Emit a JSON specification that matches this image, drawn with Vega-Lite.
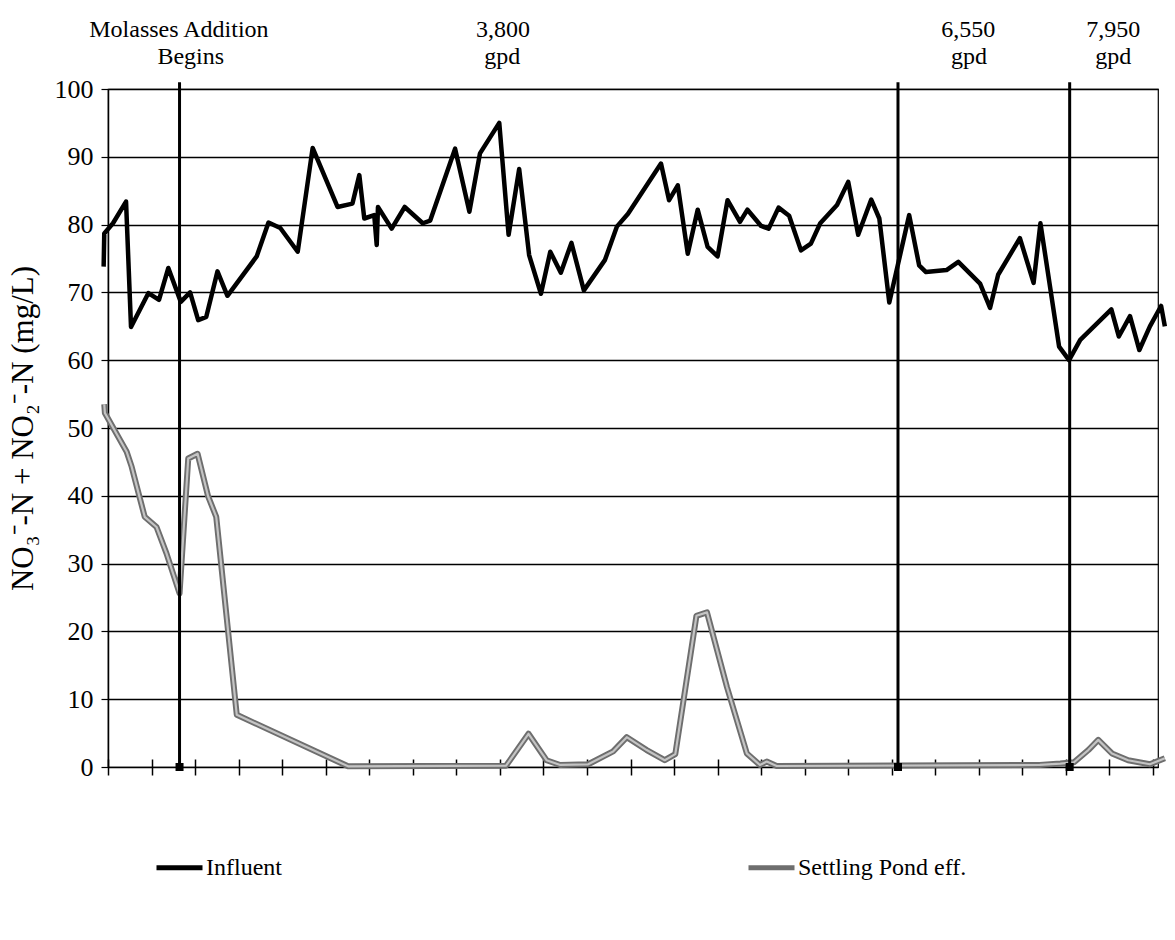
{
  "$schema": "https://vega.github.io/schema/vega-lite/v6.json",
  "width": 1050,
  "height": 678,
  "autosize": {"type": "none"},
  "padding": {"left": 108, "top": 89, "right": 17, "bottom": 173},
  "background": "white",
  "config": {
    "font": "Liberation Serif",
    "view": {"stroke": "black", "strokeWidth": 1.2},
    "axis": {"labelColor": "black", "titleColor": "black", "domainColor": "black", "tickColor": "black", "gridColor": "black"}
  },
  "datasets": {
    "series": [
      {"s": "Influent", "day": -0.7, "v": 73.8},
      {"s": "Influent", "day": -0.6, "v": 78.7},
      {"s": "Influent", "day": 0.8, "v": 80.2},
      {"s": "Influent", "day": 2.9, "v": 83.4},
      {"s": "Influent", "day": 3.7, "v": 64.9},
      {"s": "Influent", "day": 6.5, "v": 69.9},
      {"s": "Influent", "day": 8.2, "v": 68.9},
      {"s": "Influent", "day": 9.7, "v": 73.6},
      {"s": "Influent", "day": 11.7, "v": 68.6},
      {"s": "Influent", "day": 13.2, "v": 70.0},
      {"s": "Influent", "day": 14.5, "v": 65.9},
      {"s": "Influent", "day": 15.8, "v": 66.4},
      {"s": "Influent", "day": 17.6, "v": 73.1},
      {"s": "Influent", "day": 19.2, "v": 69.5},
      {"s": "Influent", "day": 23.9, "v": 75.3},
      {"s": "Influent", "day": 25.8, "v": 80.3},
      {"s": "Influent", "day": 27.7, "v": 79.5},
      {"s": "Influent", "day": 30.5, "v": 76.0},
      {"s": "Influent", "day": 32.9, "v": 91.3},
      {"s": "Influent", "day": 36.9, "v": 82.6},
      {"s": "Influent", "day": 39.3, "v": 83.1},
      {"s": "Influent", "day": 40.4, "v": 87.3},
      {"s": "Influent", "day": 41.2, "v": 80.9},
      {"s": "Influent", "day": 42.8, "v": 81.4},
      {"s": "Influent", "day": 43.2, "v": 77.0},
      {"s": "Influent", "day": 43.4, "v": 82.6},
      {"s": "Influent", "day": 45.6, "v": 79.4},
      {"s": "Influent", "day": 47.7, "v": 82.6},
      {"s": "Influent", "day": 50.6, "v": 80.2},
      {"s": "Influent", "day": 51.8, "v": 80.6},
      {"s": "Influent", "day": 55.8, "v": 91.2},
      {"s": "Influent", "day": 58.1, "v": 81.9},
      {"s": "Influent", "day": 59.8, "v": 90.5},
      {"s": "Influent", "day": 62.9, "v": 95.0},
      {"s": "Influent", "day": 64.4, "v": 78.5},
      {"s": "Influent", "day": 66.1, "v": 88.2},
      {"s": "Influent", "day": 67.7, "v": 75.5},
      {"s": "Influent", "day": 69.6, "v": 69.8},
      {"s": "Influent", "day": 71.1, "v": 76.0},
      {"s": "Influent", "day": 72.8, "v": 72.9},
      {"s": "Influent", "day": 74.5, "v": 77.3},
      {"s": "Influent", "day": 76.5, "v": 70.3},
      {"s": "Influent", "day": 79.9, "v": 74.8},
      {"s": "Influent", "day": 81.8, "v": 79.7},
      {"s": "Influent", "day": 83.6, "v": 81.6},
      {"s": "Influent", "day": 88.9, "v": 89.0},
      {"s": "Influent", "day": 90.2, "v": 83.6},
      {"s": "Influent", "day": 91.6, "v": 85.8},
      {"s": "Influent", "day": 93.2, "v": 75.7},
      {"s": "Influent", "day": 94.8, "v": 82.2},
      {"s": "Influent", "day": 96.4, "v": 76.7},
      {"s": "Influent", "day": 98.0, "v": 75.3},
      {"s": "Influent", "day": 99.6, "v": 83.6},
      {"s": "Influent", "day": 101.6, "v": 80.4},
      {"s": "Influent", "day": 102.8, "v": 82.2},
      {"s": "Influent", "day": 105.0, "v": 79.8},
      {"s": "Influent", "day": 106.2, "v": 79.4},
      {"s": "Influent", "day": 107.8, "v": 82.5},
      {"s": "Influent", "day": 109.5, "v": 81.3},
      {"s": "Influent", "day": 111.4, "v": 76.2},
      {"s": "Influent", "day": 113.0, "v": 77.2},
      {"s": "Influent", "day": 114.5, "v": 80.2},
      {"s": "Influent", "day": 117.2, "v": 82.9},
      {"s": "Influent", "day": 119.0, "v": 86.3},
      {"s": "Influent", "day": 120.6, "v": 78.5},
      {"s": "Influent", "day": 122.7, "v": 83.7},
      {"s": "Influent", "day": 124.0, "v": 80.9},
      {"s": "Influent", "day": 125.6, "v": 68.5},
      {"s": "Influent", "day": 128.8, "v": 81.4},
      {"s": "Influent", "day": 130.4, "v": 74.0},
      {"s": "Influent", "day": 131.5, "v": 73.0},
      {"s": "Influent", "day": 134.8, "v": 73.3},
      {"s": "Influent", "day": 136.7, "v": 74.5},
      {"s": "Influent", "day": 140.2, "v": 71.3},
      {"s": "Influent", "day": 141.8, "v": 67.7},
      {"s": "Influent", "day": 143.1, "v": 72.6},
      {"s": "Influent", "day": 146.6, "v": 78.0},
      {"s": "Influent", "day": 148.8, "v": 71.4},
      {"s": "Influent", "day": 149.9, "v": 80.2},
      {"s": "Influent", "day": 152.9, "v": 62.0},
      {"s": "Influent", "day": 154.5, "v": 60.0},
      {"s": "Influent", "day": 156.3, "v": 63.0},
      {"s": "Influent", "day": 161.3, "v": 67.5},
      {"s": "Influent", "day": 162.5, "v": 63.5},
      {"s": "Influent", "day": 164.3, "v": 66.5},
      {"s": "Influent", "day": 165.8, "v": 61.5},
      {"s": "Influent", "day": 167.5, "v": 65.0},
      {"s": "Influent", "day": 169.3, "v": 68.0},
      {"s": "Influent", "day": 169.9, "v": 65.0},
      {"s": "Settling Pond eff.", "day": -0.6, "v": 53.5},
      {"s": "Settling Pond eff.", "day": -0.5, "v": 52.2},
      {"s": "Settling Pond eff.", "day": 3.0, "v": 46.5},
      {"s": "Settling Pond eff.", "day": 3.8, "v": 44.3},
      {"s": "Settling Pond eff.", "day": 5.9, "v": 36.9},
      {"s": "Settling Pond eff.", "day": 7.8, "v": 35.4},
      {"s": "Settling Pond eff.", "day": 9.4, "v": 31.5},
      {"s": "Settling Pond eff.", "day": 11.5, "v": 25.6},
      {"s": "Settling Pond eff.", "day": 12.9, "v": 45.5},
      {"s": "Settling Pond eff.", "day": 14.4, "v": 46.2},
      {"s": "Settling Pond eff.", "day": 16.1, "v": 39.9},
      {"s": "Settling Pond eff.", "day": 17.4, "v": 36.9},
      {"s": "Settling Pond eff.", "day": 20.7, "v": 7.7},
      {"s": "Settling Pond eff.", "day": 38.6, "v": 0.1},
      {"s": "Settling Pond eff.", "day": 64.0, "v": 0.2},
      {"s": "Settling Pond eff.", "day": 67.6, "v": 4.9},
      {"s": "Settling Pond eff.", "day": 70.5, "v": 1.0},
      {"s": "Settling Pond eff.", "day": 72.7, "v": 0.3},
      {"s": "Settling Pond eff.", "day": 77.2, "v": 0.4},
      {"s": "Settling Pond eff.", "day": 81.2, "v": 2.3},
      {"s": "Settling Pond eff.", "day": 83.4, "v": 4.4},
      {"s": "Settling Pond eff.", "day": 86.6, "v": 2.5},
      {"s": "Settling Pond eff.", "day": 89.5, "v": 1.0},
      {"s": "Settling Pond eff.", "day": 91.2, "v": 1.9},
      {"s": "Settling Pond eff.", "day": 94.6, "v": 22.3},
      {"s": "Settling Pond eff.", "day": 96.3, "v": 22.8},
      {"s": "Settling Pond eff.", "day": 99.5, "v": 11.8},
      {"s": "Settling Pond eff.", "day": 102.7, "v": 2.0},
      {"s": "Settling Pond eff.", "day": 104.8, "v": 0.3},
      {"s": "Settling Pond eff.", "day": 105.9, "v": 0.8},
      {"s": "Settling Pond eff.", "day": 107.5, "v": 0.15},
      {"s": "Settling Pond eff.", "day": 149.8, "v": 0.3},
      {"s": "Settling Pond eff.", "day": 153.1, "v": 0.5},
      {"s": "Settling Pond eff.", "day": 155.3, "v": 0.7},
      {"s": "Settling Pond eff.", "day": 157.6, "v": 2.5},
      {"s": "Settling Pond eff.", "day": 159.2, "v": 4.0},
      {"s": "Settling Pond eff.", "day": 161.4, "v": 2.0},
      {"s": "Settling Pond eff.", "day": 164.0, "v": 1.0},
      {"s": "Settling Pond eff.", "day": 167.5, "v": 0.4},
      {"s": "Settling Pond eff.", "day": 169.9, "v": 1.3}
    ],
    "events": [
      {"day": 11.5, "top": 101, "bottom": 0},
      {"day": 127.0, "top": 101, "bottom": 0},
      {"day": 154.6, "top": 101, "bottom": 0}
    ],
    "notes": [
      {"day": 11.4, "lvl": 107.7, "t": "Molasses Addition"},
      {"day": 13.3, "lvl": 103.7, "t": "Begins"},
      {"day": 63.5, "lvl": 107.7, "t": "3,800"},
      {"day": 63.4, "lvl": 103.7, "t": "gpd"},
      {"day": 138.3, "lvl": 107.7, "t": "6,550"},
      {"day": 138.4, "lvl": 103.7, "t": "gpd"},
      {"day": 161.6, "lvl": 107.7, "t": "7,950"},
      {"day": 161.6, "lvl": 103.7, "t": "gpd"}
    ]
  },
  "layer": [
    {
      "data": {"name": "series"},
      "transform": [{"filter": "datum.s === 'Influent'"}],
      "mark": {"type": "line", "strokeWidth": 4.5, "strokeJoin": "round"},
      "encoding": {
        "x": {
          "field": "day", "type": "quantitative",
          "scale": {"domain": [0, 168.8], "nice": false, "zero": false},
          "axis": {
            "values": [0, 7, 14, 21, 28, 35, 42, 49, 56, 63, 70, 77, 84, 91, 98, 105, 112, 119, 126, 133, 140, 147, 154, 161, 168],
            "labels": false, "domain": false, "grid": false, "ticks": true,
            "tickSize": 16, "tickWidth": 1.5, "offset": -8, "title": null
          }
        },
        "y": {
          "field": "v", "type": "quantitative",
          "scale": {"domain": [0, 100], "nice": false},
          "axis": {
            "values": [0, 10, 20, 30, 40, 50, 60, 70, 80, 90, 100],
            "tickSize": 7, "tickWidth": 1.2, "labelPadding": 8, "labelFontSize": 26,
            "grid": true, "gridWidth": 1.3, "domainWidth": 1.5,
            "title": "NO₃⁻-N + NO₂⁻-N (mg/L)", "titleFontSize": 31, "titleFontWeight": "normal",
            "titleX": -85, "titleY": 339, "titleAngle": -90, "titleAlign": "center", "titleBaseline": "middle"
          }
        },
        "color": {
          "field": "s", "type": "nominal",
          "scale": {"domain": ["Influent", "Settling Pond eff."], "range": ["#000000", "#6e6e6e"]},
          "legend": {
            "orient": "none", "legendX": 46, "legendY": 753, "direction": "horizontal", "title": null,
            "symbolType": "stroke", "symbolSize": 2116, "symbolStrokeWidth": 5, "labelLimit": 400,
            "labelFontSize": 24, "labelColor": "black", "labelOffset": 1, "columnPadding": 456
          }
        }
      }
    },
    {
      "data": {"name": "series"},
      "transform": [{"filter": "datum.s !== 'Influent'"}],
      "mark": {"type": "line", "strokeWidth": 6, "strokeJoin": "round"},
      "encoding": {
        "x": {"field": "day", "type": "quantitative"},
        "y": {"field": "v", "type": "quantitative"},
        "color": {"field": "s", "type": "nominal"}
      }
    },
    {
      "data": {"name": "series"},
      "transform": [{"filter": "datum.s !== 'Influent'"}],
      "mark": {"type": "line", "strokeWidth": 2.2, "strokeJoin": "round", "color": "#c4c4c4"},
      "encoding": {
        "x": {"field": "day", "type": "quantitative"},
        "y": {"field": "v", "type": "quantitative"}
      }
    },
    {
      "data": {"name": "events"},
      "mark": {"type": "rule", "strokeWidth": 3, "color": "black"},
      "encoding": {
        "x": {"field": "day", "type": "quantitative"},
        "y": {"field": "top", "type": "quantitative"},
        "y2": {"field": "bottom"}
      }
    },
    {
      "data": {"name": "events"},
      "mark": {"type": "point", "shape": "square", "filled": true, "color": "black", "size": 64, "opacity": 1},
      "encoding": {
        "x": {"field": "day", "type": "quantitative"},
        "y": {"field": "bottom", "type": "quantitative"}
      }
    },
    {
      "data": {"name": "notes"},
      "mark": {"type": "text", "fontSize": 24, "align": "center", "baseline": "alphabetic", "color": "black"},
      "encoding": {
        "x": {"field": "day", "type": "quantitative"},
        "y": {"field": "lvl", "type": "quantitative"},
        "text": {"field": "t"}
      }
    }
  ]
}
